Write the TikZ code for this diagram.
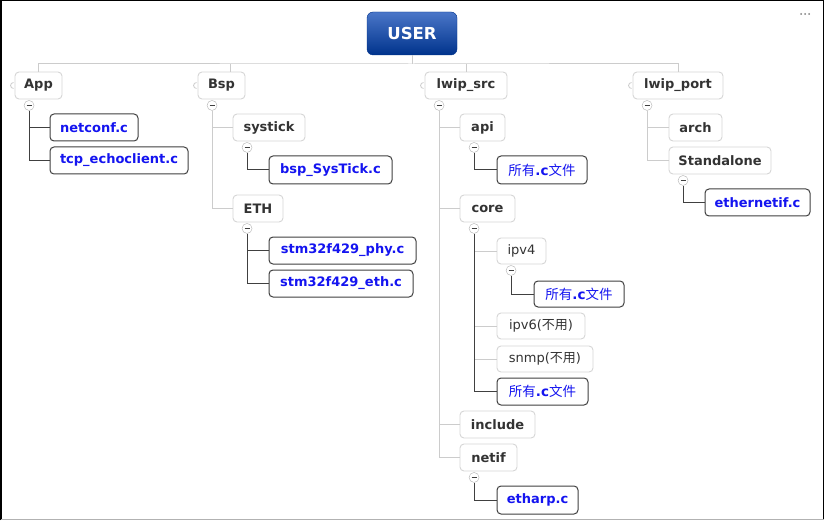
\documentclass[tikz,border=0pt]{standalone}
\usepackage{fontspec}
\setmainfont{DejaVu Sans}
\newfontfamily\cjk{Noto Sans CJK SC}
\usetikzlibrary{calc}
\definecolor{ltline}{HTML}{CCCCCC}
\definecolor{boxline}{HTML}{D6D6D6}
\definecolor{dkline}{HTML}{404040}
\definecolor{txt}{HTML}{333333}
\definecolor{fileblue}{HTML}{1414F0}
\definecolor{ubtop}{HTML}{4A76C8}
\definecolor{ubbot}{HTML}{00338C}
\newcommand\bx[7]{\node[#6, minimum width={#4pt-#2pt}, minimum height={#5pt-#3pt}] (#1) at ({(#2+#4)/2},{(#3+#5)/2}) {#7};}
\newcommand\allc{{\cjk 所有}\textbf{.c}{\cjk 文件}}
\tikzset{
  boxbase/.style={rounded corners=4pt, inner sep=0pt, fill=white},
  folder/.style={boxbase, draw=boxline, line width=0.9pt, text=txt, font=\fontsize{13}{15}\selectfont\bfseries},
  folderreg/.style={boxbase, draw=boxline, line width=0.9pt, text=txt, font=\fontsize{13}{15}\selectfont},
  filebox/.style={boxbase, draw=dkline, line width=1pt, text=fileblue, font=\fontsize{13}{15}\selectfont\bfseries},
  cfile/.style={boxbase, draw=dkline, line width=1pt, text=fileblue, font=\fontsize{13.5}{15}\selectfont},
  userbox/.style={rounded corners=6pt, inner sep=0pt, top color=ubtop, bottom color=ubbot, draw=ubbot, text=white, font=\fontsize{16.5}{18}\selectfont\bfseries},
  minus/.style={circle, draw=gray!60, fill=white, minimum size=10pt, inner sep=0pt,
    path picture={\draw[dkline, line width=1pt] ([xshift=-2.5pt]path picture bounding box.center) -- ([xshift=2.5pt]path picture bounding box.center);}},
  lt/.style={draw=ltline, line width=1pt},
  dk/.style={draw=dkline, line width=1pt},
  ms/.style={xshift=14.5pt, yshift=-6pt},
}
\begin{document}
\begin{tikzpicture}[x=1pt,y=-1pt]
\useasboundingbox (0,0) rectangle (826,521);
\fill[white] (0,0) rectangle (826,521);
% frame
\draw[black, line width=1.5pt] (0.75,520) -- (0.75,0.75) -- (823.5,0.75) -- (823.5,520);
\draw[gray!60, line width=1.5pt] (0.75,519.5) -- (823.5,519.5);
% dots
\foreach \dx in {801,805,809} \fill[gray] (\dx,14) circle[radius=1pt];

% nodes
\bx{user}{367}{12}{457}{55}{userbox}{USER}
\coordinate (bus) at (412,64);
\bx{app}{15}{72}{62}{99}{folder}{App}
\bx{bsp}{198}{72}{245}{99}{folder}{Bsp}
\bx{lwipsrc}{425}{72}{507}{99}{folder}{lwip\_src}
\bx{lwipport}{633}{72}{723}{99}{folder}{lwip\_port}

\bx{netconf}{50}{114}{138}{141}{filebox}{netconf.c}
\bx{tcpecho}{50}{147}{188}{174}{filebox}{tcp\_echoclient.c}

\bx{systick}{233}{114}{305}{141}{folder}{systick}
\bx{bspsys}{269}{156}{392}{184}{filebox}{bsp\_SysTick.c}
\bx{eth}{233}{195}{283}{222}{folder}{ETH}
\bx{phy}{269}{237}{416}{264}{filebox}{stm32f429\_phy.c}
\bx{ethc}{269}{270}{413}{297}{filebox}{stm32f429\_eth.c}

\bx{api}{460}{114}{505}{141}{folder}{api}
\bx{apiall}{497}{156}{587}{184}{cfile}{\allc}
\bx{core}{460}{195}{515}{222}{folder}{core}
\bx{ipv4}{497}{238}{546}{264}{folderreg}{ipv4}
\bx{ipvall}{534}{281}{624}{307}{cfile}{\allc}
\bx{ipv6}{497}{313}{585}{339}{folderreg}{ipv6({\cjk 不用})}
\bx{snmp}{497}{346}{593}{372}{folderreg}{snmp({\cjk 不用})}
\bx{coreall}{497}{378}{588}{405}{cfile}{\allc}
\bx{include}{460}{411}{535}{438}{folder}{include}
\bx{netif}{460}{444}{517}{471}{folder}{netif}
\bx{etharp}{497}{486}{578}{514}{filebox}{etharp.c}

\bx{arch}{669}{114}{722}{141}{folder}{arch}
\bx{standalone}{669}{147}{771}{174}{folder}{Standalone}
\bx{ethernetif}{705}{189}{810}{216}{filebox}{ethernetif.c}

% left attach circles on level-1 nodes
\foreach \n in {app,bsp,lwipsrc,lwipport}
  \draw[draw=ltline, line width=0.8pt] ([xshift=-1pt]\n.west) ++(0pt,3pt) arc[start angle=90, end angle=270, radius=3pt];

% top connectors
\draw[lt] (user.south) -- (bus);
\draw[lt] (app.north) |- (bus) -| (lwipport.north);
\draw[lt] ([xshift=8.5pt]bsp.north) -- ([xshift=8.5pt]bsp.north |- bus);
\draw[lt] (lwipsrc.north) -- (lwipsrc.north |- bus);

% minus buttons
\node[minus] (appm) at ([ms]app.south west) {};
\node[minus] (bspm) at ([ms]bsp.south west) {};
\node[minus] (srcm) at ([ms]lwipsrc.south west) {};
\node[minus] (portm) at ([ms]lwipport.south west) {};
\node[minus] (systickm) at ([ms]systick.south west) {};
\node[minus] (ethm) at ([ms]eth.south west) {};
\node[minus] (apim) at ([ms]api.south west) {};
\node[minus] (corem) at ([ms]core.south west) {};
\node[minus] (ipv4m) at ([ms]ipv4.south west) {};
\node[minus] (netifm) at ([ms]netif.south west) {};
\node[minus] (standm) at ([ms]standalone.south west) {};

% App
\draw[dk] (appm.south) |- (netconf.west);
\draw[dk] (appm.south) |- (tcpecho.west);
% Bsp
\draw[lt] (bspm.south) |- (systick.west);
\draw[lt] (bspm.south) |- (eth.west);
\draw[dk] (systickm.south) |- (bspsys.west);
\draw[dk] (ethm.south) |- (phy.west);
\draw[dk] (ethm.south) |- (ethc.west);
% lwip_src
\draw[lt] (srcm.south) |- (api.west);
\draw[lt] (srcm.south) |- (core.west);
\draw[lt] (srcm.south) |- (include.west);
\draw[lt] (srcm.south) |- (netif.west);
\draw[dk] (apim.south) |- (apiall.west);
\draw[lt] (corem.south) |- (ipv4.west);
\draw[lt] (corem.south) |- (ipv6.west);
\draw[lt] (corem.south) |- (snmp.west);
\draw[dk] (corem.south) |- (coreall.west);
\draw[dk] (ipv4m.south) |- (ipvall.west);
\draw[dk] (netifm.south) |- (etharp.west);
% lwip_port
\draw[lt] (portm.south) |- (arch.west);
\draw[lt] (portm.south) |- (standalone.west);
\draw[dk] (standm.south) |- (ethernetif.west);
\end{tikzpicture}
\end{document}
